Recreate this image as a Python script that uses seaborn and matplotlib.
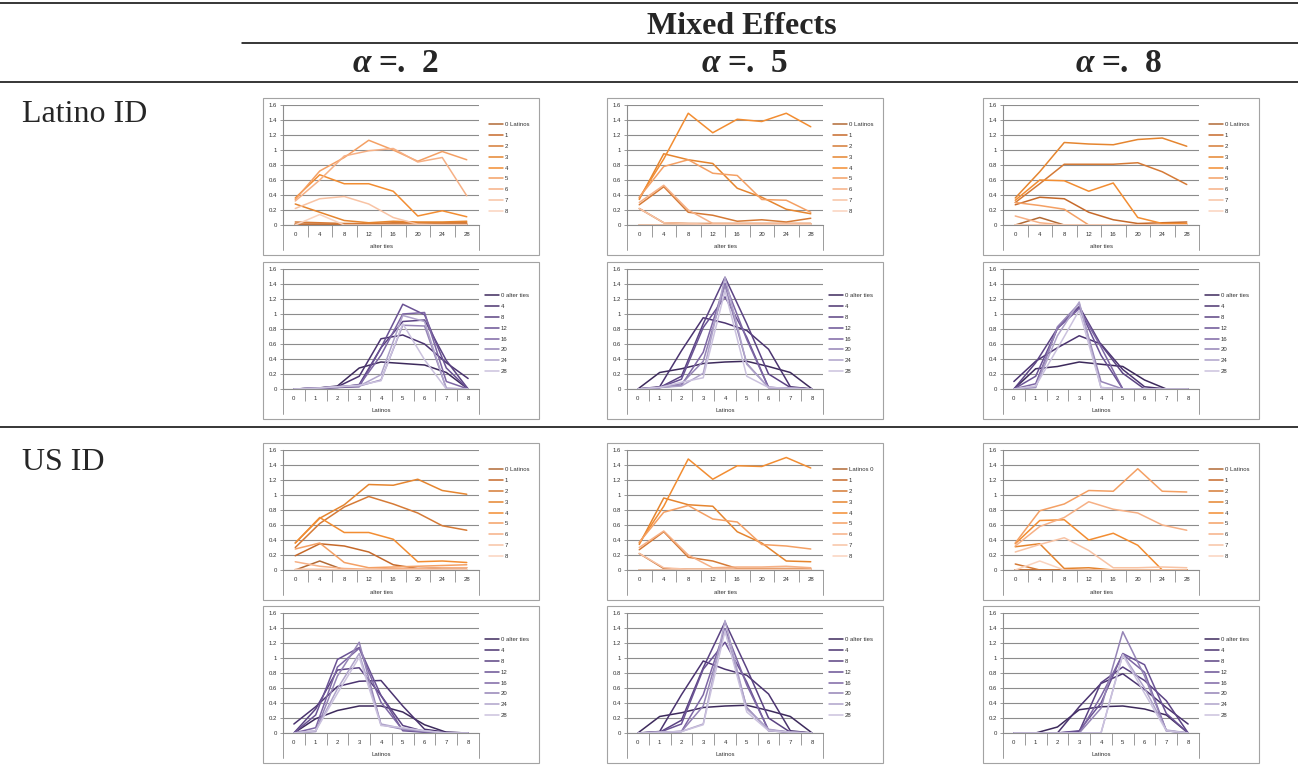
import numpy as np
import pandas as pd
import matplotlib
matplotlib.use("Agg")
import matplotlib.pyplot as plt
import seaborn as sns
from matplotlib.patches import Rectangle
from matplotlib.lines import Line2D

# ---------------- data ----------------
latinos = [0, 1, 2, 3, 4, 5, 6, 7, 8]
alter_ties = [0, 4, 8, 12, 16, 20, 24, 28]
latino_legend = ["0 Latinos", "1", "2", "3", "4", "5", "6", "7", "8"]
latino_legend_alt = ["Latinos 0", "1", "2", "3", "4", "5", "6", "7", "8"]
ties_legend = ["0 alter ties", "4", "8", "12", "16", "20", "24", "28"]
col_headers = ["2", "5", "8"]
row_headers = ["Latino ID", "US ID"]

# rows = number of Latinos (0..8), columns = alter ties (0..28)
latino_id_a2 = [
    [0.00, 0.00, 0.00, 0.00, 0.00, 0.00, 0.00, 0.00],
    [0.01, 0.01, 0.01, 0.01, 0.01, 0.01, 0.01, 0.01],
    [0.04, 0.03, 0.02, 0.02, 0.03, 0.03, 0.03, 0.03],
    [0.28, 0.17, 0.06, 0.03, 0.05, 0.04, 0.04, 0.05],
    [0.36, 0.67, 0.55, 0.55, 0.45, 0.12, 0.19, 0.11],
    [0.34, 0.72, 0.90, 1.13, 1.00, 0.85, 0.98, 0.87],
    [0.32, 0.60, 0.92, 0.99, 1.02, 0.84, 0.90, 0.39],
    [0.22, 0.35, 0.38, 0.28, 0.10, 0.01, 0.00, 0.00],
    [0.00, 0.14, 0.00, 0.00, 0.00, 0.00, 0.00, 0.00],
]
latino_id_a5 = [
    [0.00, 0.00, 0.00, 0.00, 0.00, 0.00, 0.00, 0.00],
    [0.22, 0.03, 0.02, 0.02, 0.02, 0.02, 0.02, 0.02],
    [0.27, 0.51, 0.17, 0.13, 0.05, 0.07, 0.04, 0.09],
    [0.34, 0.95, 0.87, 0.82, 0.49, 0.37, 0.21, 0.15],
    [0.36, 0.88, 1.49, 1.23, 1.41, 1.38, 1.49, 1.31],
    [0.37, 0.78, 0.87, 0.69, 0.66, 0.34, 0.33, 0.17],
    [0.30, 0.53, 0.20, 0.02, 0.02, 0.02, 0.02, 0.02],
    [0.22, 0.03, 0.02, 0.01, 0.01, 0.01, 0.01, 0.01],
    [0.00, 0.00, 0.00, 0.00, 0.00, 0.00, 0.00, 0.00],
]
latino_id_a8 = [
    [0.00, 0.10, 0.00, 0.00, 0.00, 0.00, 0.00, 0.00],
    [0.27, 0.37, 0.35, 0.17, 0.07, 0.02, 0.03, 0.04],
    [0.30, 0.55, 0.81, 0.81, 0.81, 0.83, 0.71, 0.54],
    [0.36, 0.71, 1.10, 1.08, 1.07, 1.14, 1.16, 1.05],
    [0.33, 0.60, 0.59, 0.45, 0.56, 0.10, 0.02, 0.02],
    [0.30, 0.26, 0.21, 0.00, 0.00, 0.00, 0.00, 0.00],
    [0.12, 0.03, 0.00, 0.00, 0.00, 0.00, 0.00, 0.00],
    [0.00, 0.00, 0.00, 0.00, 0.00, 0.00, 0.00, 0.00],
    [0.00, 0.00, 0.00, 0.00, 0.00, 0.00, 0.00, 0.00],
]
us_id_a2 = [
    [0.00, 0.12, 0.00, 0.00, 0.00, 0.00, 0.00, 0.00],
    [0.19, 0.35, 0.32, 0.24, 0.07, 0.02, 0.03, 0.03],
    [0.30, 0.62, 0.84, 0.98, 0.88, 0.76, 0.59, 0.53],
    [0.36, 0.69, 0.87, 1.14, 1.13, 1.21, 1.06, 1.01],
    [0.36, 0.70, 0.50, 0.50, 0.41, 0.11, 0.12, 0.10],
    [0.28, 0.36, 0.10, 0.03, 0.04, 0.05, 0.06, 0.07],
    [0.11, 0.05, 0.02, 0.01, 0.02, 0.02, 0.03, 0.03],
    [0.01, 0.01, 0.00, 0.00, 0.00, 0.00, 0.00, 0.00],
    [0.00, 0.00, 0.00, 0.00, 0.00, 0.00, 0.00, 0.00],
]
us_id_a5 = [
    [0.00, 0.00, 0.00, 0.00, 0.00, 0.00, 0.00, 0.00],
    [0.22, 0.02, 0.01, 0.01, 0.01, 0.01, 0.01, 0.01],
    [0.27, 0.51, 0.17, 0.12, 0.02, 0.02, 0.02, 0.02],
    [0.34, 0.96, 0.87, 0.85, 0.51, 0.36, 0.12, 0.11],
    [0.36, 0.85, 1.48, 1.21, 1.39, 1.38, 1.50, 1.36],
    [0.37, 0.77, 0.86, 0.68, 0.64, 0.34, 0.32, 0.28],
    [0.30, 0.52, 0.20, 0.03, 0.04, 0.04, 0.05, 0.03],
    [0.22, 0.03, 0.01, 0.01, 0.01, 0.01, 0.01, 0.01],
    [0.00, 0.00, 0.00, 0.00, 0.00, 0.00, 0.00, 0.00],
]
us_id_a8 = [
    [0.00, 0.00, 0.00, 0.00, 0.00, 0.00, 0.00, 0.00],
    [0.00, 0.00, 0.00, 0.00, 0.00, 0.00, 0.00, 0.00],
    [0.08, 0.00, 0.00, 0.00, 0.00, 0.00, 0.00, 0.00],
    [0.31, 0.35, 0.02, 0.03, 0.00, 0.00, 0.00, 0.00],
    [0.35, 0.66, 0.67, 0.40, 0.49, 0.33, 0.00, 0.00],
    [0.36, 0.79, 0.88, 1.06, 1.05, 1.35, 1.05, 1.04],
    [0.32, 0.58, 0.70, 0.91, 0.81, 0.76, 0.60, 0.53],
    [0.24, 0.34, 0.43, 0.26, 0.03, 0.03, 0.04, 0.03],
    [0.00, 0.12, 0.00, 0.00, 0.00, 0.00, 0.00, 0.00],
]

oranges = ["#B26A35", "#C66A2B", "#D57A36", "#E5852F", "#F28D32",
           "#F4A064", "#F6B085", "#F8C3A4", "#FAD3BE"]
purples = ["#3D2A5C", "#4B3470", "#5B4383", "#6A5294", "#7D66A4",
           "#9584B6", "#AFA3CA", "#CBC2DE"]

# ---------------- figure ----------------
W, H = 1298, 769
sns.set_theme(style="white")
plt.rcParams["font.family"] = ["Liberation Sans", "DejaVu Sans"]
fig = plt.figure(figsize=(W / 100, H / 100), dpi=100)
fig.patch.set_facecolor("white")

def fx(x):
    return x / W

def fy(y):
    return 1 - y / H

def hline(y, x0, x1, lw=1.1):
    fig.add_artist(Line2D([fx(x0), fx(x1)], [fy(y), fy(y)], color="black",
                          lw=lw, transform=fig.transFigure))

GRID = "#8C8C8C"
SMALL = 4.3
BOX_W, BOX_H = 276, 157


def chart(bx, by, matrix, kind, first_label=None):
    fig.add_artist(Rectangle((fx(bx), fy(by + BOX_H)), BOX_W / W, BOX_H / H,
                             transform=fig.transFigure, fill=False,
                             edgecolor="#A3A3A3", lw=0.8))
    ax = fig.add_axes([fx(bx + 20), fy(by + 127), 196 / W, 120 / H])
    M = np.array(matrix, dtype=float)
    if kind == "orange":
        data = M
        xcats = alter_ties
        labels = list(latino_legend if first_label is None else latino_legend_alt)
        palette = oranges
        xname = "alter ties"
        leg_x, leg_y = bx + 226, by + 24
    else:
        data = M.T
        xcats = latinos
        labels = list(ties_legend)
        palette = purples
        xname = "Latinos"
        leg_x, leg_y = bx + 222, by + 31
    rows = []
    for s, lab in enumerate(labels):
        for i, v in enumerate(data[s]):
            rows.append((i, v, lab))
    df = pd.DataFrame(rows, columns=["pos", "value", "series"])
    sns.lineplot(data=df, x="pos", y="value", hue="series", hue_order=labels,
                 palette=palette, linewidth=1.1, ax=ax, errorbar=None,
                 legend=True)
    n = len(xcats)
    ax.set_xlim(-0.5, n - 0.5)
    ax.set_ylim(0, 1.6)
    yt = np.round(np.arange(0, 1.61, 0.2), 1)
    ax.set_yticks(yt)
    ax.set_yticklabels([("%g" % v) for v in yt])
    ax.set_xticks(range(n))
    ax.set_xticklabels([str(c) for c in xcats])
    ax.set_xticks(np.arange(0.5, n - 1, 1.0), minor=True)
    ax.set_xlabel("")
    ax.set_ylabel("")
    ax.patch.set_alpha(0)
    ax.grid(axis="y", color=GRID, lw=0.8)
    ax.grid(axis="x", visible=False)
    ax.set_axisbelow(True)
    for sp in ["top", "right"]:
        ax.spines[sp].set_visible(False)
    for sp in ["left", "bottom"]:
        ax.spines[sp].set_color(GRID)
        ax.spines[sp].set_linewidth(0.8)
    ax.tick_params(axis="y", which="major", left=True, length=2.5, width=0.6,
                   color=GRID, pad=2, labelsize=SMALL, labelcolor="#303030")
    ax.tick_params(axis="x", which="major", bottom=True, length=0, pad=5,
                   labelsize=SMALL, labelcolor="#303030")
    ax.tick_params(axis="x", which="minor", bottom=True, length=8.5,
                   width=0.6, color=GRID, direction="out")
    tr = ax.get_xaxis_transform()
    for xe in (-0.5, n - 0.5):
        ax.plot([xe, xe], [0, -25 / 120], transform=tr, color=GRID, lw=0.6,
                clip_on=False)
    ax.text(0.5, -22 / 120, xname, transform=ax.transAxes, ha="center",
            va="center", fontsize=SMALL, color="#303030")
    handles, labs = ax.get_legend_handles_labels()
    ax.legend(handles, labs, loc="upper left",
              bbox_to_anchor=(fx(leg_x), fy(leg_y)),
              bbox_transform=fig.transFigure, frameon=False, fontsize=SMALL,
              handlelength=2.3, handletextpad=0.3, labelspacing=0.95,
              borderpad=0, borderaxespad=0, labelcolor="#303030")
    return ax


# ---------------- header / table rules ----------------
hline(3, 0, W)
hline(43, 242, W)
hline(82, 0, W)
hline(427, 0, W)

serif = ["Liberation Serif", "DejaVu Serif"]
fig.text(fx(742), fy(26), "Mixed Effects", ha="center", va="center",
         family=serif, weight="bold", size=23)

col_x = [263, 607, 983]
col_cx = [396, 745, 1119]
for cx, h in zip(col_cx, col_headers):
    fig.text(fx(cx - 43), fy(64), "\u03b1", ha="left", va="center",
             family=serif, weight="bold", style="italic", size=24)
    fig.text(fx(cx - 18), fy(64), "=.", ha="left", va="center",
             family=serif, weight="bold", size=24)
    fig.text(fx(cx + 26), fy(64), h, ha="left", va="center",
             family=serif, weight="bold", size=24)

fig.text(fx(22), fy(115), row_headers[0], ha="left", va="center",
         family=serif, size=23)
fig.text(fx(22), fy(462), row_headers[1], ha="left", va="center",
         family=serif, size=23)

# ---------------- charts ----------------
row_tops = [98, 262, 443, 606]
latino_sets = [latino_id_a2, latino_id_a5, latino_id_a8]
us_sets = [us_id_a2, us_id_a5, us_id_a8]
for j in range(3):
    chart(col_x[j], row_tops[0], latino_sets[j], "orange")
    chart(col_x[j], row_tops[1], latino_sets[j], "purple")
    chart(col_x[j], row_tops[2], us_sets[j], "orange",
          first_label=("alt" if j == 1 else None))
    chart(col_x[j], row_tops[3], us_sets[j], "purple")

fig.savefig("out.png", dpi=100, facecolor="white")
